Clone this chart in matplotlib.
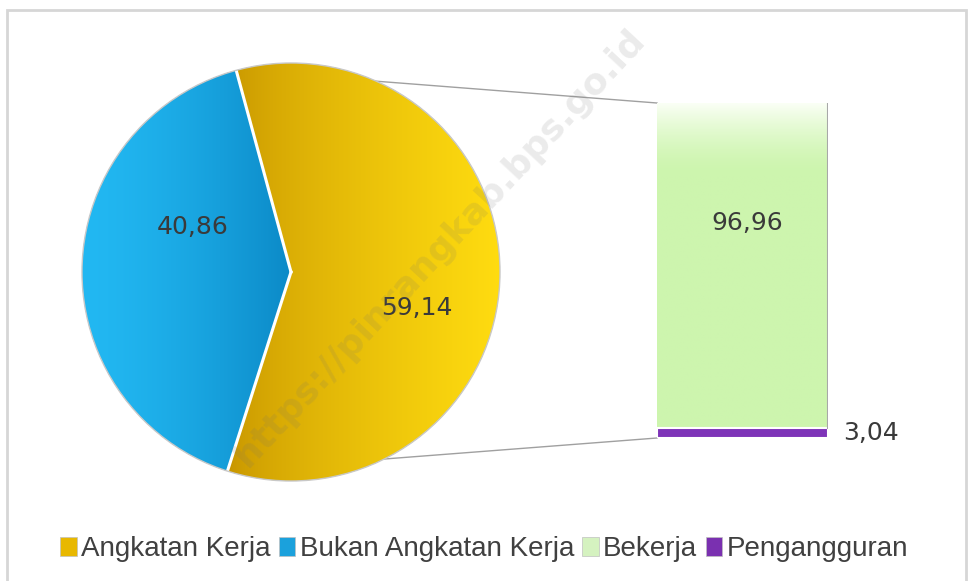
import numpy as np
import matplotlib.pyplot as plt
from matplotlib.patches import Patch, Rectangle
from matplotlib.colors import to_rgb

W, H = 968, 581

# data
pie_labels = ['Angkatan Kerja', 'Bukan Angkatan Kerja']
pie_values = [59.14, 40.86]
pie_text = ['59,14', '40,86']
bar_labels = ['Bekerja', 'Pengangguran']
bar_values = [96.96, 3.04]
bar_text = ['96,96', '3,04']

plt.rcParams['font.family'] = ['Liberation Sans Narrow', 'Liberation Sans', 'DejaVu Sans']

fig = plt.figure(figsize=(W / 100, H / 100), dpi=100)
ax = fig.add_axes([0, 0, 1, 1])

# pie (pixel-like coords, y up)
cx, cy, R = 291, H - 272, 209
wedges, _ = ax.pie(pie_values, colors=['#F0C20A', '#17A6E2'], startangle=105.2,
                   counterclock=False, radius=R, center=(cx, cy),
                   wedgeprops=dict(linewidth=0), frame=True)
ax.set_xlim(0, W)
ax.set_ylim(0, H)
ax.axis('off')


def grad(c0, c1, t):
    c0, c1 = np.array(to_rgb(c0)), np.array(to_rgb(c1))
    return c0[None, None, :] * (1 - t[..., None]) + c1[None, None, :] * t[..., None]


yy, xx = np.mgrid[0:H, 0:W] + 0.5
t_y = np.clip((xx - (cx - 60)) / (R + 60), 0, 1) ** 0.7
t_b = np.clip((xx - (cx - R)) / (R + 10), 0, 1) ** 1.5
img_y = grad('#C89600', '#FFDC10', t_y)
img_b = grad('#22B8F2', '#0A86C4', t_b)
for w, img in zip(wedges, [img_y, img_b]):
    im = ax.imshow(img, extent=(0, W, 0, H), origin='lower', zorder=2, aspect='auto')
    im.set_clip_path(w)

# slice borders
th = np.radians([wedges[0].theta1, wedges[0].theta2])
for a in th:
    ax.plot([cx, cx + R * np.cos(a)], [cy, cy + R * np.sin(a)], color='white', lw=2.2, zorder=3)
circ = plt.Circle((cx, cy), R, fill=False, edgecolor='#c8c8c8', lw=1, zorder=3)
ax.add_patch(circ)

# labels on pie
lab_pos = [(417, 308), (193, 227)]
for (px, py), s in zip(lab_pos, pie_text):
    ax.text(px, H - py, s, ha='center', va='center', fontsize=18, color='#3a3a3a',
            family=['DejaVu Sans'], zorder=5)

# stacked bar
bx0, bx1, by_top, by_bot = 657, 828, 103, 438
bax = fig.add_axes([bx0 / W, (H - by_bot) / H, (bx1 - bx0) / W, (by_bot - by_top) / H])
pur = bax.bar(0, bar_values[1], width=1, color='#7E34B8', edgecolor='white', lw=1.5, zorder=4)
grn = bax.bar(0, bar_values[0], bottom=bar_values[1], width=1, color='#D3F6B9',
              edgecolor='#b8b8b8', lw=1, zorder=2)
bax.set_xlim(-0.5, 0.5)
bax.set_ylim(0, sum(bar_values))
bax.axis('off')

gy = np.linspace(0, 1, 200)[:, None] * np.ones((1, 50))
tg = np.clip((gy - 0.78) / 0.22, 0, 1) ** 1.6
gimg = grad('#CDF5AE', '#FAFFF5', tg)
gim = bax.imshow(gimg, extent=(-0.5, 0.5, bar_values[1], 100), origin='lower',
                 aspect='auto', zorder=3)
gim.set_clip_path(grn[0])
bax.plot([0.5, 0.5], [bar_values[1], 100], color='#a8a8a8', lw=1.5, zorder=5)

bax.text(0.03, bar_values[1] + bar_values[0] * 0.63, bar_text[0], ha='center', va='center',
         fontsize=18, color='#3a3a3a', family=['DejaVu Sans'], zorder=6)
bax.text(0.59, bar_values[1] / 2, bar_text[1], ha='left', va='center',
         fontsize=18, color='#3a3a3a', family=['DejaVu Sans'], clip_on=False)

# connector lines
to_main = bax.transData + ax.transData.inverted()
top_pt = to_main.transform((-0.5, 100))
bot_pt = to_main.transform((-0.5, 0))
a_top, a_bot = np.radians(wedges[0].theta2), np.radians(wedges[0].theta1)
ax.plot([cx + R * np.cos(a_top), top_pt[0]], [cy + R * np.sin(a_top), top_pt[1]],
        color='#a0a0a0', lw=1, zorder=1)
ax.plot([cx + R * np.cos(a_bot), bot_pt[0]], [cy + R * np.sin(a_bot), bot_pt[1]],
        color='#a0a0a0', lw=1, zorder=1)

# outer frame
ax.add_patch(Rectangle((7, -20), 959, H - 10 + 20, fill=False, edgecolor='#d6d6d6', lw=2, zorder=0))

# watermark
ax.text(440, H - 248, 'https://pinrangkab.bps.go.id', rotation=47, fontsize=26,
        fontweight='bold', color='#707070', alpha=0.14, ha='center', va='center',
        family=['DejaVu Sans'], zorder=10)

# legend
handles = [Patch(facecolor=c, edgecolor='#c0c0c0', lw=0.5)
           for c in ['#E8B800', '#1BA1DC', '#D5F2C0', '#7A30B0']]
leg = fig.legend(handles, pie_labels + bar_labels, loc='center', bbox_to_anchor=(0.5, 1 - 549 / H),
                 ncol=4, frameon=False, fontsize=20, handlelength=0.6, handleheight=0.7,
                 handletextpad=0.15, columnspacing=0.3)
for t in leg.get_texts():
    t.set_color('#404040')

fig.savefig('out.png', dpi=100, facecolor='white')
